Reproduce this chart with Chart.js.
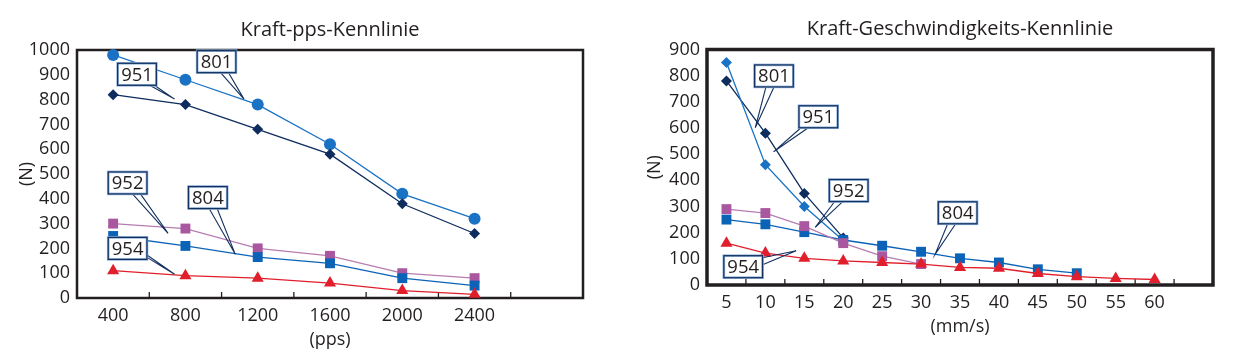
<!DOCTYPE html>
<html>
<head>
<meta charset="utf-8">
<script src="https://cdn.jsdelivr.net/npm/chart.js@4.4.1/dist/chart.umd.min.js"></script>
<style>
  html, body { margin: 0; padding: 0; background: #fff; }
  #wrap { position: relative; width: 1249px; height: 358px; }
  .pane { position: absolute; top: 0; height: 358px; }
</style>
</head>
<body>
<div id="wrap">
  <div class="pane" style="left:0;width:620px"><canvas id="ppsChart"></canvas></div>
  <div class="pane" style="left:620px;width:629px"><canvas id="speedChart"></canvas></div>
</div>
<script>
// Kraft-pps (left)
const ppsLabels = ['400', '800', '1200', '1600', '2000', '2400', ''];
const pps801 = [980, 880, 780, 620, 420, 320];
const pps951 = [820, 780, 680, 580, 380, 260];
const pps952 = [300, 280, 200, 170, 100, 80];
const pps804 = [250, 210, 165, 140, 80, 50];
const pps954 = [110, 90, 80, 60, 30, 15];
const ppsYTicks = [0, 1000, 100];

// Kraft-Geschwindigkeit (right)
const speedLabels = ['5', '10', '15', '20', '25', '30', '35', '40', '45', '50', '55', '60', ''];
const speed801 = [850, 460, 300, 170];
const speed951 = [780, 580, 350, 180];
const speed952 = [290, 275, 225, 160, 110, 80];
const speed804 = [250, 232, 202, 172, 150, 127, 102, 86, 60, 45];
const speed954 = [160, 122, 102, 92, 86, 80, 67, 64, 44, 32, 25, 21];
const speedYTicks = [0, 900, 100];

// callout labels: text, box centre and pointer tip in data units (category index, N)
const ppsNotes = [
  { text: '801', at: [1.43, 953], tip: [1.81, 802] },
  { text: '951', at: [0.33, 902], tip: [0.85, 802] },
  { text: '952', at: [0.2, 464], tip: [0.76, 261] },
  { text: '804', at: [1.31, 405], tip: [1.69, 176] },
  { text: '954', at: [0.2, 200], tip: [0.85, 96] }
];
const speedNotes = [
  { text: '801', at: [1.22, 799], tip: [0.74, 601] },
  { text: '951', at: [2.36, 643], tip: [1.21, 509] },
  { text: '952', at: [3.14, 361], tip: [2.28, 220] },
  { text: '804', at: [5.94, 276], tip: [5.36, 117] },
  { text: '954', at: [0.43, 70], tip: [1.79, 131] }
];

const FONT = '"Open Sans", sans-serif';
const INK = '#231f20';
Chart.defaults.font.family = FONT;
Chart.defaults.color = INK;

const col801 = '#1a72c4';
const col951 = '#0e2c5e';
const col952 = '#a9579f';
const col804 = '#0b63b8';
const col954 = '#e11f2c';

function series(label, data, color, style, radius, lineColor) {
  return {
    label: label,
    data: data,
    borderColor: lineColor || color,
    backgroundColor: color,
    pointBackgroundColor: color,
    pointBorderColor: color,
    pointBorderWidth: 0,
    pointStyle: style,
    pointRadius: radius,
    borderWidth: 1.3,
    tension: 0,
    clip: false
  };
}

// frame round the plot and short inward ticks between categories
const framePlugin = {
  id: 'frame',
  beforeDatasetsDraw(chart, args, opts) {
    const { ctx, chartArea: a, scales: { x } } = chart;
    ctx.save();
    ctx.strokeStyle = INK;
    ctx.lineWidth = 1.3;
    for (let i = 1; i < x.ticks.length; i++) {
      const px = (x.getPixelForTick(i - 1) + x.getPixelForTick(i)) / 2;
      ctx.beginPath();
      ctx.moveTo(px, a.bottom);
      ctx.lineTo(px, a.bottom - opts.tick);
      ctx.stroke();
    }
    ctx.lineWidth = opts.width;
    ctx.strokeRect(a.left, a.top, a.width, a.height);
    ctx.restore();
  }
};

const calloutPlugin = {
  id: 'callouts',
  afterDatasetsDraw(chart, args, opts) {
    const { ctx, scales: { x, y } } = chart;
    ctx.save();
    ctx.font = opts.size + 'px ' + FONT;
    opts.items.forEach(n => {
      const cx = x.getPixelForValue(n.at[0]);
      const cy = y.getPixelForValue(n.at[1]);
      const tx = x.getPixelForValue(n.tip[0]);
      const ty = y.getPixelForValue(n.tip[1]);
      const w = ctx.measureText(n.text).width + 7;
      const h = 22;
      const dx = tx - cx, dy = ty - cy;
      const t = Math.min((w / 2) / Math.abs(dx || 1e-6), (h / 2) / Math.abs(dy || 1e-6));
      const ex = cx + dx * t, ey = cy + dy * t;
      let b1, b2;
      if (Math.abs(ey - cy) >= h / 2 - 0.01) {
        const lo = Math.max(cx - w / 2 + 2, ex - 4), hi = Math.min(cx + w / 2 - 2, ex + 4);
        b1 = [lo, ey]; b2 = [hi, ey];
      } else {
        const lo = Math.max(cy - h / 2 + 2, ey - 4), hi = Math.min(cy + h / 2 - 2, ey + 4);
        b1 = [ex, lo]; b2 = [ex, hi];
      }
      ctx.strokeStyle = '#12305e';
      ctx.lineWidth = 1.1;
      ctx.beginPath();
      ctx.moveTo(b1[0], b1[1]); ctx.lineTo(tx, ty); ctx.lineTo(b2[0], b2[1]);
      ctx.stroke();

      ctx.fillStyle = '#fff';
      ctx.fillRect(cx - w / 2, cy - h / 2, w, h);
      ctx.strokeStyle = '#8fb0d8';
      ctx.lineWidth = 2.6;
      ctx.strokeRect(cx - w / 2, cy - h / 2, w, h);
      ctx.strokeStyle = '#12305e';
      ctx.lineWidth = 1.2;
      ctx.strokeRect(cx - w / 2, cy - h / 2, w, h);

      ctx.fillStyle = INK;
      ctx.textAlign = 'center';
      ctx.textBaseline = 'middle';
      ctx.fillText(n.text, cx, cy + 1);
    });
    ctx.restore();
  }
};

function makeConfig(o) {
  return {
    type: 'line',
    data: { labels: o.labels, datasets: o.datasets },
    options: {
      responsive: true,
      maintainAspectRatio: false,
      animation: false,
      layout: { padding: { left: 0, right: o.padRight, top: 0, bottom: 0 } },
      plugins: {
        legend: { display: false },
        tooltip: { enabled: false },
        title: {
          display: true,
          text: o.title,
          fullSize: false,
          color: INK,
          font: { size: 20, weight: 'normal' },
          padding: { top: o.titleTop, bottom: 8 }
        },
        frame: { width: o.frameWidth, tick: 6 },
        callouts: { items: o.notes, size: 18.5 }
      },
      scales: {
        x: {
          offset: true,
          grid: { display: false, drawTicks: false },
          border: { display: false },
          ticks: { autoSkip: false, maxRotation: 0, padding: o.xTickPad, font: { size: 18 }, color: INK },
          title: { display: true, text: o.xTitle, color: INK, font: { size: 18 }, padding: { top: 0, bottom: o.xTitlePad } },
          afterFit: s => { s.height = o.xHeight; }
        },
        y: {
          min: o.yTicks[0],
          max: o.yTicks[1],
          grid: { display: false, drawTicks: false },
          border: { display: false },
          ticks: { stepSize: o.yTicks[2], padding: 7, font: { size: 18 }, color: INK, callback: v => String(v) },
          title: { display: true, text: '(N)', color: INK, font: { size: 18 }, padding: { top: o.yTitlePad, bottom: 0 } },
          afterFit: s => { s.width = o.yWidth; }
        }
      }
    },
    plugins: [framePlugin, calloutPlugin]
  };
}

const ppsChart = new Chart(document.getElementById('ppsChart'), makeConfig({
  labels: ppsLabels,
  datasets: [
    series('954', pps954, col954, 'triangle', 7),
    series('804', pps804, col804, 'rect', 7),
    series('952', pps952, col952, 'rect', 7, '#b77cb0'),
    series('951', pps951, col951, 'rectRot', 5.5),
    series('801', pps801, col801, 'circle', 6)
  ],
  notes: ppsNotes,
  title: 'Kraft-pps-Kennlinie',
  titleTop: 18,
  padRight: 37,
  frameWidth: 2.5,
  xTitle: '(pps)',
  xHeight: 60,
  xTickPad: 7,
  xTitlePad: 7,
  yWidth: 77,
  yTitlePad: 16,
  yTicks: ppsYTicks
}));

const speedChart = new Chart(document.getElementById('speedChart'), makeConfig({
  labels: speedLabels,
  datasets: [
    series('954', speed954, col954, 'triangle', 7),
    series('952', speed952, col952, 'rect', 7, '#b77cb0'),
    series('804', speed804, col804, 'rect', 7),
    series('801', speed801, col801, 'rectRot', 5.5),
    series('951', speed951, col951, 'rectRot', 5.5)
  ],
  notes: speedNotes,
  title: 'Kraft-Geschwindigkeits-Kennlinie',
  titleTop: 17.5,
  padRight: 36,
  frameWidth: 3.5,
  xTitle: '(mm/s)',
  xHeight: 73,
  xTickPad: 7,
  xTitlePad: 20,
  yWidth: 87,
  yTitlePad: 24,
  yTicks: speedYTicks
}));
</script>
</body>
</html>
